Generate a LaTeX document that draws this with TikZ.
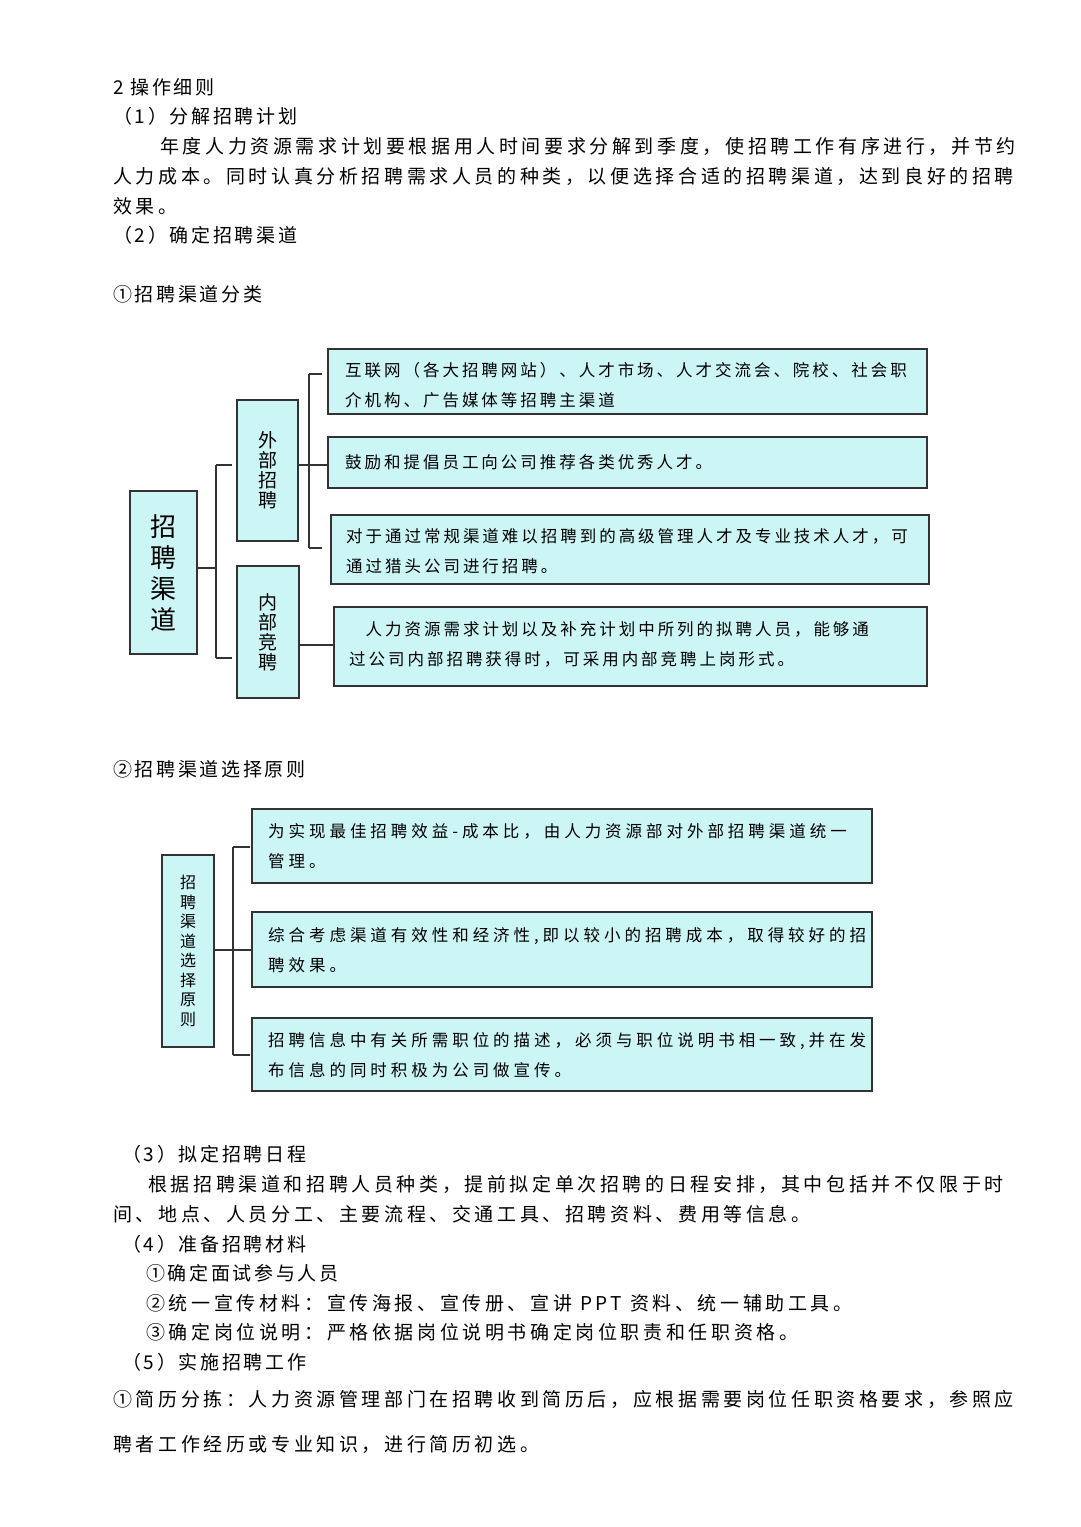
\documentclass[tikz,border=0pt]{standalone}
\usepackage{fontspec}
\setmainfont{Noto Sans CJK SC}
\definecolor{bfill}{RGB}{204,245,246}
\begin{document}
\begin{tikzpicture}[x=1pt,y=-1pt,
 t/.style={anchor=west,inner sep=0pt,font=\fontsize{19}{19}\selectfont\addfontfeature{LetterSpace=19}},
 hd/.style={anchor=west,inner sep=0pt,font=\fontsize{19}{19}\selectfont\addfontfeature{LetterSpace=14}},
 bx/.style={draw=black!80,line width=1.6pt,fill=bfill,inner sep=0pt},
 bt/.style={anchor=west,inner sep=0pt,align=left,font=\fontsize{16.5}{30}\selectfont\addfontfeature{LetterSpace=18}},
 bt2/.style={anchor=west,inner sep=0pt,align=left,font=\fontsize{16.5}{30}\selectfont\addfontfeature{LetterSpace=24}},
 ln/.style={line width=1.3pt,black!80}]
\useasboundingbox (0,0) rectangle (1080,1527);
\fill[white] (0,0) rectangle (1080,1527);
% text top
\node[hd] (h1) at (113,87) {2 操作细则};
\node[hd] (h2) at (113,116) {（1）分解招聘计划};
\node[t] (p1) at (160,146) {年度人力资源需求计划要根据用人时间要求分解到季度，使招聘工作有序进行，并节约};
\node[t] (p2) at (113,176) {人力成本。同时认真分析招聘需求人员的种类，以便选择合适的招聘渠道，达到良好的招聘};
\node[t] (p3) at (113,206) {效果。};
\node[hd] (h3) at (113,235) {（2）确定招聘渠道};
\node[hd] (h4) at (113,294) {①招聘渠道分类};
% diagram 1
\node[bx,minimum width=67,minimum height=163] (m) at (163.5,572.5) {};
\node[align=center,font=\fontsize{26}{31}\selectfont] at (m) {招\\聘\\渠\\道};
\node[bx,minimum width=61,minimum height=141] (w) at (267.5,470.5) {};
\node[align=center,font=\fontsize{19}{20}\selectfont] at (w) {外\\部\\招\\聘};
\node[bx,minimum width=62,minimum height=132] (n) at (268,632) {};
\node[align=center,font=\fontsize{19}{20}\selectfont] at (n) {内\\部\\竞\\聘};
\node[bx,minimum width=599,minimum height=65] (a) at (627.5,381.5) {};
\node[bt] at (345,385) {互联网（各大招聘网站）、人才市场、人才交流会、院校、社会职\\介机构、广告媒体等招聘主渠道};
\node[bx,minimum width=599,minimum height=51] (b) at (627.5,462.5) {};
\node[bt] at (345,462) {鼓励和提倡员工向公司推荐各类优秀人才。};
\node[bx,minimum width=598,minimum height=69] (c) at (630,549.5) {};
\node[bt] at (346,551) {对于通过常规渠道难以招聘到的高级管理人才及专业技术人才，可\\通过猎头公司进行招聘。};
\node[bx,minimum width=593,minimum height=79] (d) at (630.5,646.5) {};
\node[bt] at (349,644) {\quad 人力资源需求计划以及补充计划中所列的拟聘人员，能够通\\过公司内部招聘获得时，可采用内部竞聘上岗形式。};
\coordinate (j1) at (216,568);
\draw[ln] (m.east |- j1) -- (j1);
\draw[ln] (216,465) -- (216,658);
\draw[ln] (216,465) -- (232,465);
\draw[ln] (216,658) -- (232,658);
\draw[ln] (w.east |- 0,465) -- (309,465) -- (b.west |- 0,465);
\draw[ln] (309,374) -- (309,548);
\draw[ln] (309,374) -- (322,374);
\draw[ln] (309,548) -- (322,548);
\draw[ln] (n.east |- 0,645) -- (d.west |- 0,645);
% diagram 2
\node[hd] (h5) at (113,769) {②招聘渠道选择原则};
\node[bx,minimum width=52,minimum height=192] (s) at (188,951) {};
\node[align=center,font=\fontsize{16}{19.5}\selectfont] at (s) {招\\聘\\渠\\道\\选\\择\\原\\则};
\node[bx,minimum width=620,minimum height=74] (e) at (562,846) {};
\node[bt2] at (268,846) {为实现最佳招聘效益-成本比，由人力资源部对外部招聘渠道统一\\管理。};
\node[bx,minimum width=620,minimum height=75] (f) at (562,949.5) {};
\node[bt2] at (268,950) {综合考虑渠道有效性和经济性,即以较小的招聘成本，取得较好的招\\聘效果。};
\node[bx,minimum width=620,minimum height=73] (g) at (562,1054.5) {};
\node[bt2] at (268,1055) {招聘信息中有关所需职位的描述，必须与职位说明书相一致,并在发\\布信息的同时积极为公司做宣传。};
\draw[ln] (s.east |- 0,950) -- (233,950) -- (f.west |- 0,950);
\draw[ln] (233,847) -- (233,1055);
\draw[ln] (233,847) -- (250,847);
\draw[ln] (233,1055) -- (250,1055);
% text bottom
\node[hd] (h6) at (122,1154) {（3）拟定招聘日程};
\node[t] (q1) at (148,1184) {根据招聘渠道和招聘人员种类，提前拟定单次招聘的日程安排，其中包括并不仅限于时};
\node[t] (q2) at (113,1214) {间、地点、人员分工、主要流程、交通工具、招聘资料、费用等信息。};
\node[hd] (h7) at (122,1244) {（4）准备招聘材料};
\node[hd] (r1) at (146,1273) {①确定面试参与人员};
\node[t] (r2) at (146,1303) {②统一宣传材料：宣传海报、宣传册、宣讲 PPT 资料、统一辅助工具。};
\node[t] (r3) at (146,1332) {③确定岗位说明：严格依据岗位说明书确定岗位职责和任职资格。};
\node[hd] (h8) at (122,1362) {（5）实施招聘工作};
\node[t] (s1) at (113,1399) {①简历分拣：人力资源管理部门在招聘收到简历后，应根据需要岗位任职资格要求，参照应};
\node[t] (s2) at (113,1444) {聘者工作经历或专业知识，进行简历初选。};
\end{tikzpicture}
\end{document}
